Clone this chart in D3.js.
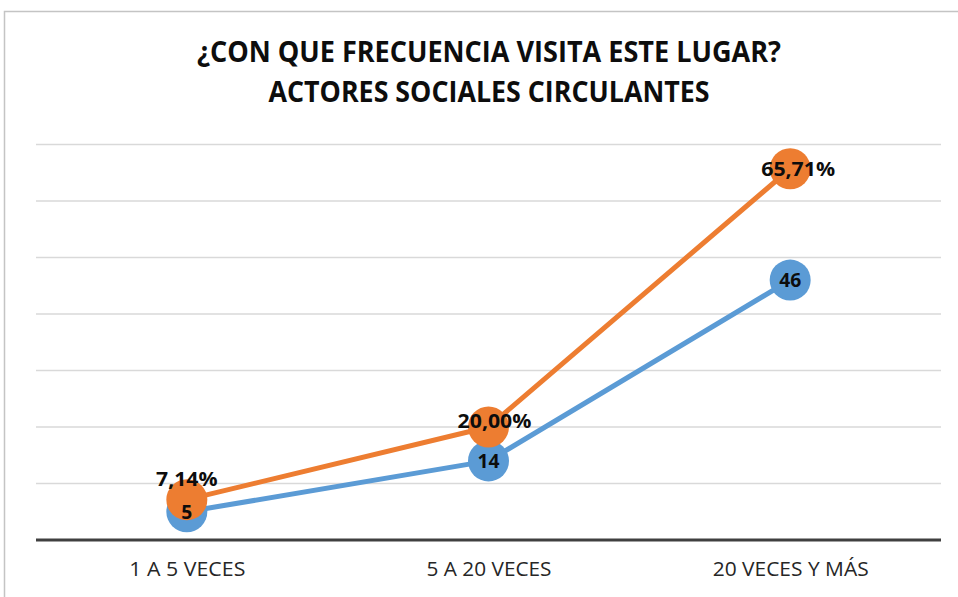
<!DOCTYPE html>
<html>
<head>
<meta charset="utf-8">
<script src="https://cdn.jsdelivr.net/npm/d3@7"></script>
<style>
  html, body { margin: 0; padding: 0; background: #fff; }
  svg { display: block; font-family: "Open Sans", "Liberation Sans", sans-serif; }
</style>
</head>
<body>
<svg id="chart" width="958" height="597"></svg>
<script>
// Categories and series
const categories = ["1 A 5 VECES", "5 A 20 VECES", "20 VECES Y MÁS"];
const countValues = [5, 14, 46];              // number of respondents
const percentValues = [7.14, 20.00, 65.71];   // share of respondents (%)
const yTicks = [0, 10, 20, 30, 40, 50, 60, 70];
const titleLines = ["¿CON QUE FRECUENCIA VISITA ESTE LUGAR?", "ACTORES SOCIALES CIRCULANTES"];

// Label nudges (px) for the percentage labels
const percentLabelDx = [0, 6, 8];
const percentLabelDy = [-21, -6, 0];

const W = 958, H = 597;
const margin = { left: 36 };
const plotRight = 941;
const yBase = 540, yTop = 144.5;

const svg = d3.select("#chart");

// Outer frame
svg.append("path")
  .attr("d", `M4.5,${H} L4.5,11.5 L${W},11.5`)
  .attr("fill", "none")
  .attr("stroke", "#c4c4c4")
  .attr("stroke-width", 1.5);

const x = d3.scalePoint().domain(categories).range([margin.left, plotRight]).padding(0.5);
const y = d3.scaleLinear().domain([0, 70]).range([yBase, yTop]);

// Gridlines
svg.append("g")
  .selectAll("line")
  .data(yTicks.filter(d => d > 0))
  .join("line")
  .attr("x1", margin.left).attr("x2", plotRight)
  .attr("y1", d => y(d)).attr("y2", d => y(d))
  .attr("stroke", "#d9d9d9")
  .attr("stroke-width", 1.3);

// Category axis
const xAxis = svg.append("g")
  .attr("transform", `translate(0,${yBase})`)
  .call(d3.axisBottom(x).tickSize(0).tickPadding(22));
xAxis.select(".domain").remove();
xAxis.append("line")
  .attr("x1", margin.left).attr("x2", plotRight)
  .attr("stroke", "#404040").attr("stroke-width", 3);
const axisWidths = [116, 125, 156];
xAxis.selectAll(".tick text")
  .attr("font-size", 20)
  .attr("fill", "#262626")
  .attr("font-family", "'Open Sans', sans-serif")
  .attr("textLength", (d, i) => axisWidths[i])
  .attr("lengthAdjust", "spacingAndGlyphs");

// Title
const titleWidths = [584, 441];
svg.append("g")
  .selectAll("text")
  .data(titleLines)
  .join("text")
  .attr("x", 489)
  .attr("y", (d, i) => 62 + i * 39.5)
  .attr("text-anchor", "middle")
  .attr("font-size", 28)
  .attr("font-weight", 700)
  .attr("fill", "#0d0d0d")
  .attr("textLength", (d, i) => titleWidths[i])
  .attr("lengthAdjust", "spacingAndGlyphs")
  .text(d => d);

const line = d3.line().x((d, i) => x(categories[i])).y(d => y(d));

function drawSeries(values, color) {
  const g = svg.append("g");
  g.append("path")
    .datum(values)
    .attr("d", line)
    .attr("fill", "none")
    .attr("stroke", color)
    .attr("stroke-width", 5)
    .attr("stroke-linejoin", "round");
  g.selectAll("circle")
    .data(values)
    .join("circle")
    .attr("cx", (d, i) => x(categories[i]))
    .attr("cy", d => y(d))
    .attr("r", 20.5)
    .attr("fill", color);
}

drawSeries(countValues, "#5b9bd5");
drawSeries(percentValues, "#ed7d31");

const fmtPct = d => d.toFixed(2).replace(".", ",") + "%";

// Count labels
svg.append("g")
  .selectAll("text")
  .data(countValues)
  .join("text")
  .attr("x", (d, i) => x(categories[i]))
  .attr("y", d => y(d))
  .attr("dy", "0.36em")
  .attr("text-anchor", "middle")
  .attr("font-size", 20)
  .attr("font-weight", 700)
  .attr("fill", "#0d0d0d")
  .attr("textLength", d => String(d).length * 11)
  .attr("lengthAdjust", "spacingAndGlyphs")
  .text(d => d);

// Percentage labels
svg.append("g")
  .selectAll("text")
  .data(percentValues)
  .join("text")
  .attr("x", (d, i) => x(categories[i]) + percentLabelDx[i])
  .attr("y", (d, i) => y(d) + percentLabelDy[i])
  .attr("dy", "0.36em")
  .attr("text-anchor", "middle")
  .attr("font-size", 20)
  .attr("font-weight", 700)
  .attr("fill", "#0d0d0d")
  .attr("textLength", d => fmtPct(d).length * 12.3)
  .attr("lengthAdjust", "spacingAndGlyphs")
  .text(d => fmtPct(d));
</script>
</body>
</html>
